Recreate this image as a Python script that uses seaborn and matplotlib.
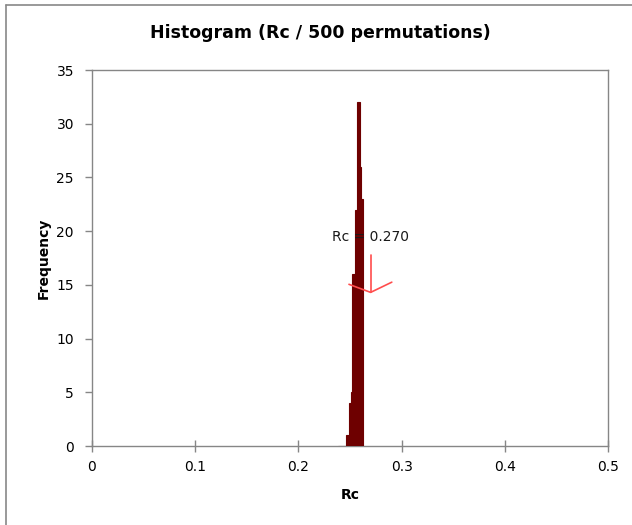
import numpy as np
import pandas as pd
import matplotlib
matplotlib.use("Agg")
import matplotlib.pyplot as plt
from matplotlib.lines import Line2D
import seaborn as sns

# Histogram of the permuted Rc statistic
bin_width = 0.0015
bin_left = np.round(0.2385 + bin_width * np.arange(16), 5)
frequency = [0, 0, 0, 0, 0, 1, 1, 4, 5, 16, 16, 22, 32, 32, 26, 23]

rc_observed = 0.270
title = "Histogram (Rc / 500 permutations)"
x_ticks = [0, 0.1, 0.2, 0.3, 0.4, 0.5]
x_tick_labels = ["0", "0.1", "0.2", "0.3", "0.4", "0.5"]
y_ticks = [0, 5, 10, 15, 20, 25, 30, 35]

sns.set_theme(style="white")
plt.rcParams["font.family"] = ["DejaVu Sans"]
plt.rcParams["text.color"] = "black"
plt.rcParams["axes.labelcolor"] = "black"

df = pd.DataFrame({"Rc": bin_left + bin_width / 2, "Frequency": frequency})

fig = plt.figure(figsize=(6.32, 5.25), dpi=100)
ax = fig.add_axes([92 / 632, 1 - 446 / 525, 516 / 632, 376 / 525])

bar_color = "#6E0000"
sns.histplot(data=df, x="Rc", weights="Frequency", binwidth=bin_width,
             binrange=(float(bin_left[0]), float(bin_left[-1] + bin_width)),
             ax=ax, color=bar_color, edgecolor=bar_color, linewidth=0.8,
             alpha=1.0, stat="count", zorder=3)

ax.set_xlim(0, 0.5)
ax.set_ylim(0, 35)
ax.set_xticks(x_ticks)
ax.set_xticklabels(x_tick_labels)
ax.set_yticks(y_ticks)

axis_grey = "#868686"
for side in ["left", "bottom", "top", "right"]:
    ax.spines[side].set_color(axis_grey)
    ax.spines[side].set_linewidth(1.0)
ax.tick_params(axis="x", direction="inout", length=8, width=1,
               color=axis_grey, labelsize=10, pad=6, labelcolor="black")
ax.tick_params(axis="y", direction="out", length=5, width=1,
               color=axis_grey, labelsize=10, pad=8, labelcolor="black")
ax.tick_params(bottom=True, left=True)

ax.set_xlabel("Rc", fontsize=10, fontweight="bold", labelpad=10)
ax.set_ylabel("Frequency", fontsize=10, fontweight="bold", labelpad=4)
fig.text(0.5075, 1 - 33 / 525, title, ha="center", va="center",
         fontsize=12.5, fontweight="bold", color="black")

# Marker for the observed Rc value
arrow_color = "#FF4D4D"
ax.text(rc_observed, 19.5, f"Rc = {rc_observed:.3f}", ha="center",
        va="center", fontsize=10, color="#1a1a1a", zorder=5)
ax.plot([rc_observed, rc_observed], [17.8, 14.3], color=arrow_color, lw=1.2,
        zorder=4)
ax.plot([rc_observed - 0.021, rc_observed, rc_observed + 0.0205],
        [15.05, 14.3, 15.25], color=arrow_color, lw=1.2, zorder=4)

# Chart frame
fig.add_artist(Line2D([6 / 632, 6 / 632], [0, 1 - 5 / 525],
                      transform=fig.transFigure, color="#888888", lw=1.2))
fig.add_artist(Line2D([6 / 632, 1], [1 - 5 / 525, 1 - 5 / 525],
                      transform=fig.transFigure, color="#888888", lw=1.2))

fig.savefig("out.png", dpi=100)
